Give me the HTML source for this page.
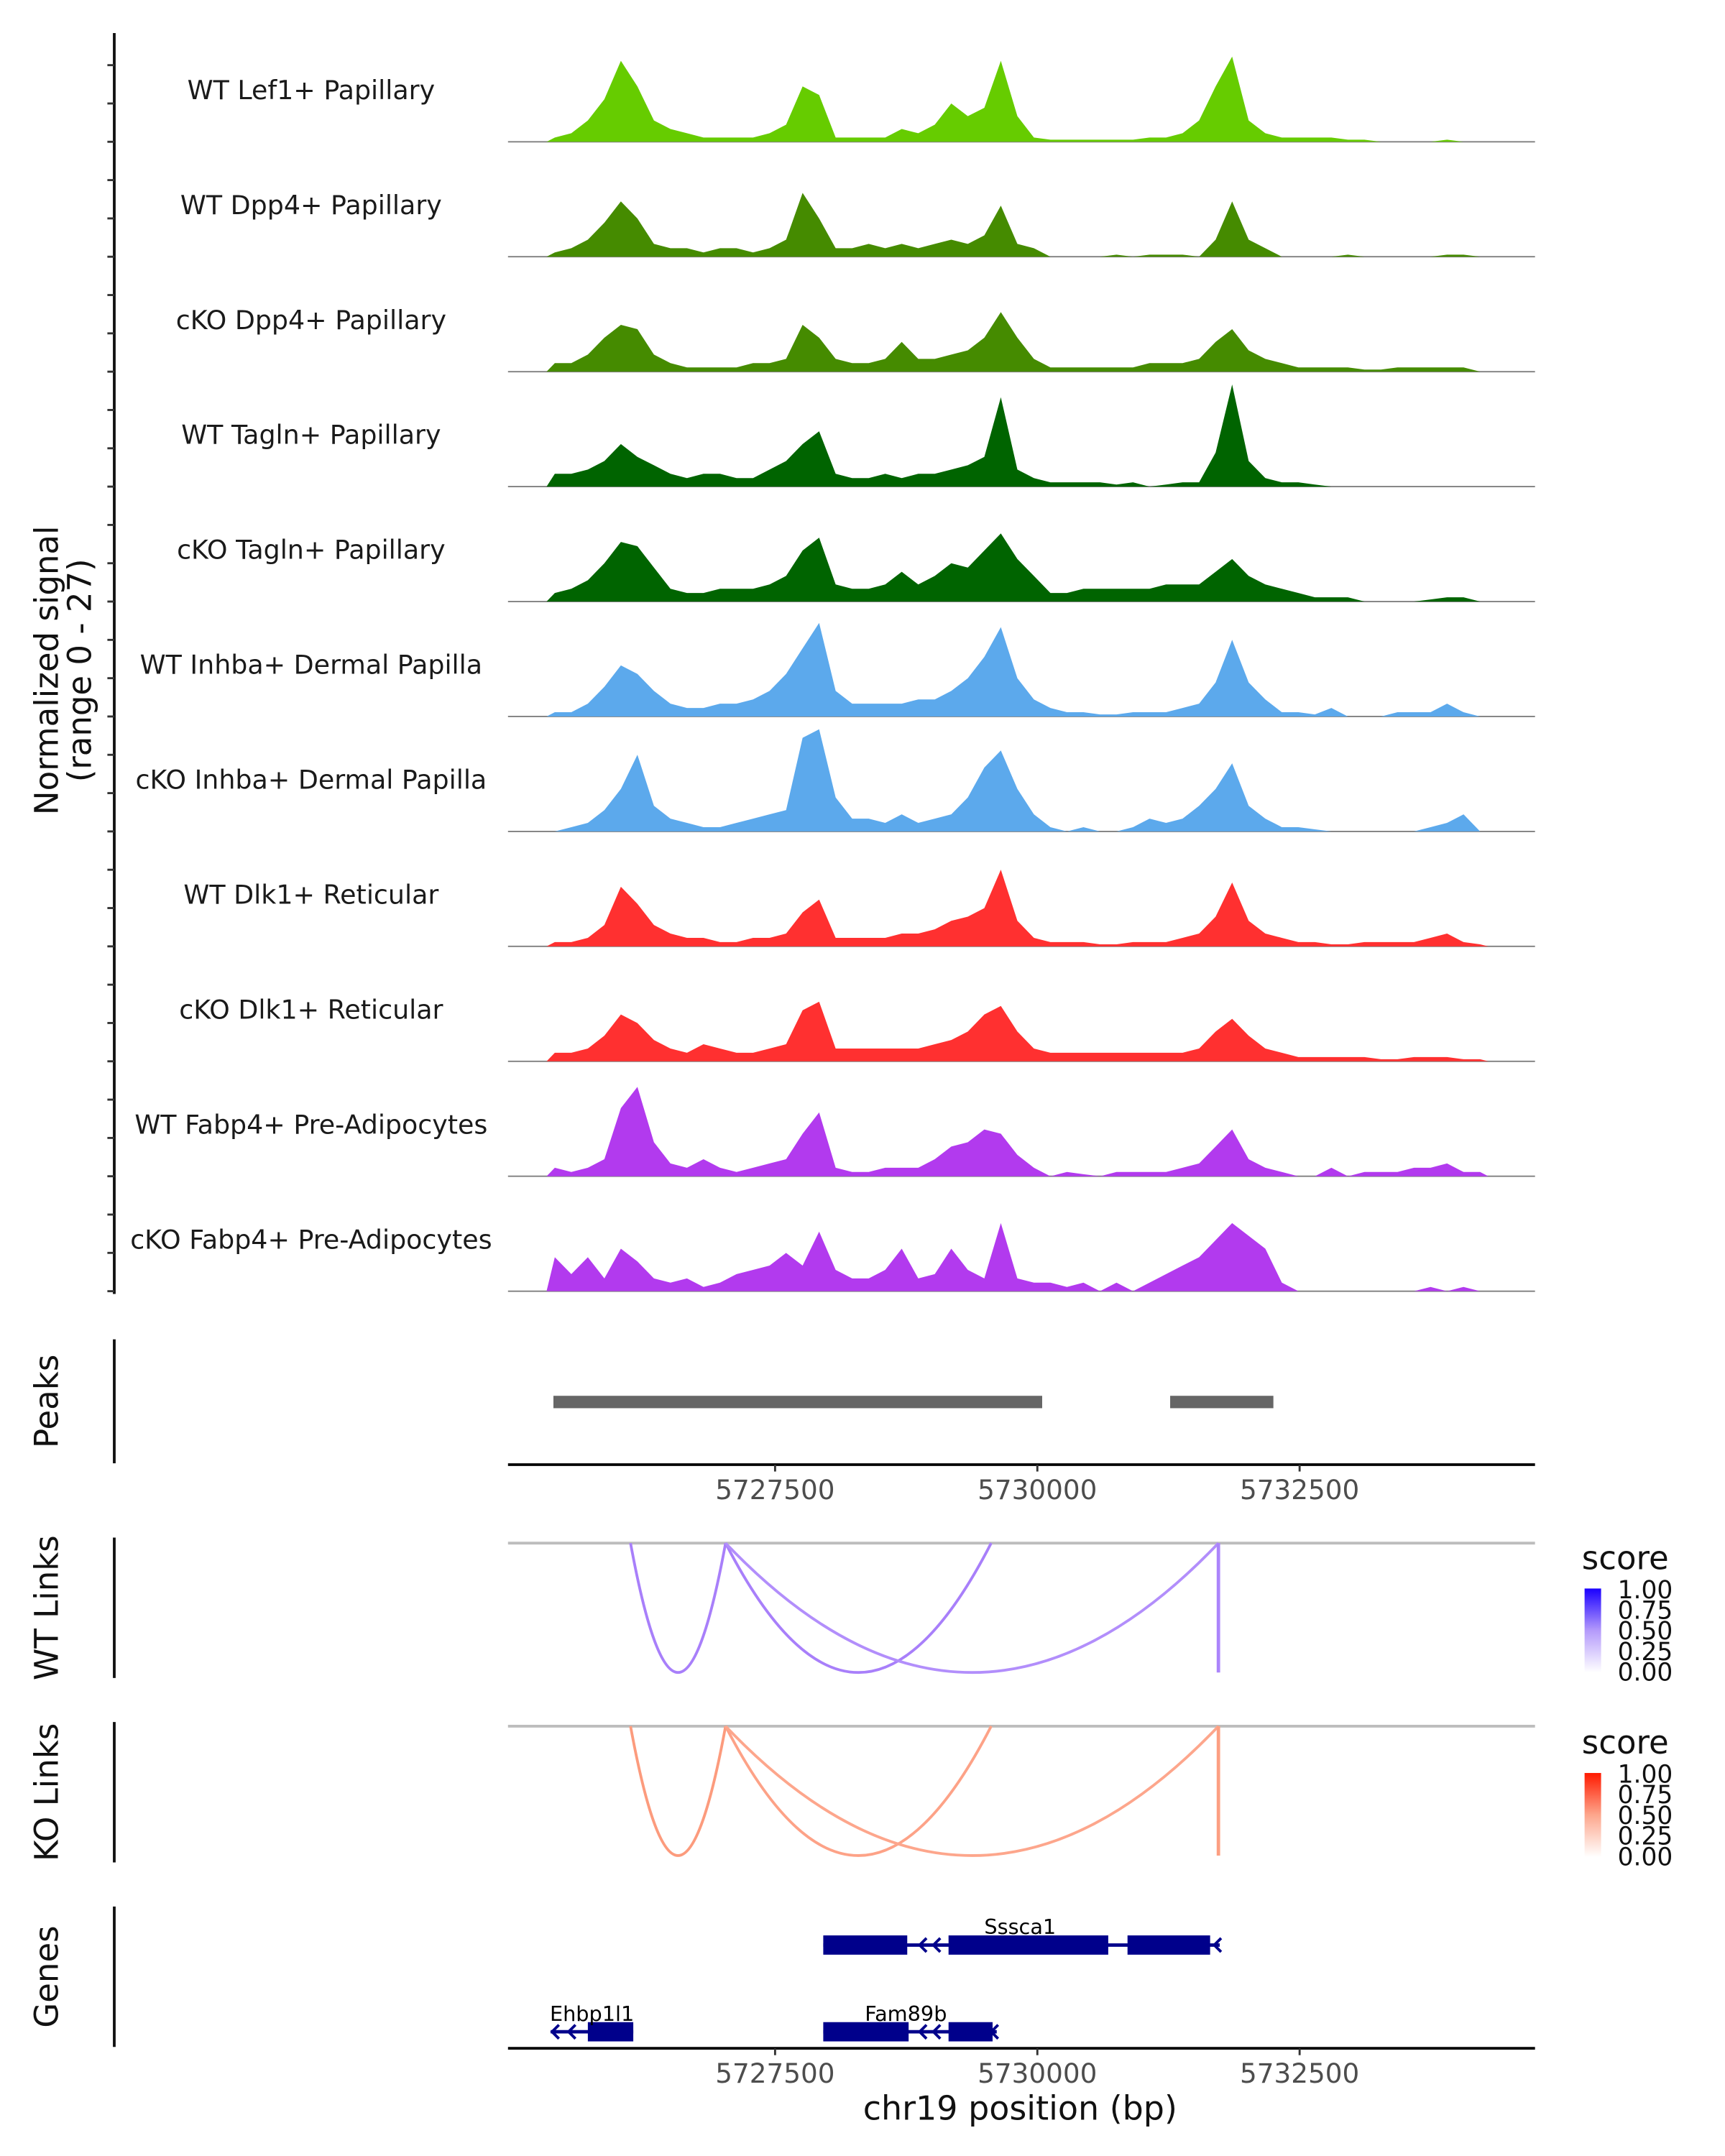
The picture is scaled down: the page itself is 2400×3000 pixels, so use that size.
<!DOCTYPE html>
<html><head><meta charset="utf-8">
<style>
html,body{margin:0;padding:0;background:#fff;}
svg{display:block;font-family:"DejaVu Sans","Liberation Sans",sans-serif;}
</style></head>
<body>
<svg id="chart" width="2400" height="3000" viewBox="0 0 1253 1566.25" xmlns="http://www.w3.org/2000/svg">
<rect width="1253" height="1566.25" fill="#fff"/>
<g id="cov"></g>
<g id="yaxis"></g>
<text transform="translate(42,487) rotate(-90)" text-anchor="middle" font-size="23.5" fill="#111">Normalized signal</text>
<text transform="translate(66,487) rotate(-90)" text-anchor="middle" font-size="23.5" fill="#111">(range 0 - 27)</text>

<line x1="83" y1="973" x2="83" y2="1063" stroke="#111" stroke-width="2"/>
<text transform="translate(42,1018) rotate(-90)" text-anchor="middle" font-size="23.5" fill="#111">Peaks</text>
<g id="peaks"></g>
<line x1="369" y1="1064" x2="1115" y2="1064" stroke="#000" stroke-width="2"/>
<g id="xaxis1"></g>

<line x1="83" y1="1117" x2="83" y2="1219" stroke="#111" stroke-width="2"/>
<text transform="translate(42,1168) rotate(-90)" text-anchor="middle" font-size="23.5" fill="#111">WT Links</text>
<line x1="369" y1="1121" x2="1115" y2="1121" stroke="#bdbdbd" stroke-width="2"/>
<g id="wtlinks"></g>

<line x1="83" y1="1251" x2="83" y2="1353" stroke="#111" stroke-width="2"/>
<text transform="translate(42,1302) rotate(-90)" text-anchor="middle" font-size="23.5" fill="#111">KO Links</text>
<line x1="369" y1="1254" x2="1115" y2="1254" stroke="#bdbdbd" stroke-width="2"/>
<g id="kolinks"></g>

<defs>
<linearGradient id="gb" x1="0" y1="1" x2="0" y2="0"><stop offset="0" stop-color="#fff"/><stop offset="0.5" stop-color="#b49afb"/><stop offset="1" stop-color="#1a00ff"/></linearGradient>
<linearGradient id="gr" x1="0" y1="1" x2="0" y2="0"><stop offset="0" stop-color="#fff"/><stop offset="0.5" stop-color="#fda68c"/><stop offset="1" stop-color="#ff1a00"/></linearGradient>
</defs>
<g>
<text x="1149" y="1140" font-size="23.5" fill="#111">score</text>
<rect x="1151" y="1154" width="12" height="61" fill="url(#gb)"/>
<g font-size="18" fill="#111"><text x="1175" y="1161">1.00</text><text x="1175" y="1176">0.75</text><text x="1175" y="1191">0.50</text><text x="1175" y="1206">0.25</text><text x="1175" y="1221">0.00</text></g>
</g>
<g>
<text x="1149" y="1274" font-size="23.5" fill="#111">score</text>
<rect x="1151" y="1288" width="12" height="61" fill="url(#gr)"/>
<g font-size="18" fill="#111"><text x="1175" y="1295">1.00</text><text x="1175" y="1310">0.75</text><text x="1175" y="1325">0.50</text><text x="1175" y="1340">0.25</text><text x="1175" y="1355">0.00</text></g>
</g>

<line x1="83" y1="1385" x2="83" y2="1487" stroke="#111" stroke-width="2"/>
<text transform="translate(42,1436) rotate(-90)" text-anchor="middle" font-size="23.5" fill="#111">Genes</text>
<g id="genes"></g>
<line x1="369" y1="1488" x2="1115" y2="1488" stroke="#000" stroke-width="2"/>
<g id="xaxis2"></g>
<text x="741" y="1540" text-anchor="middle" font-size="24" fill="#111">chr19 position (bp)</text>
</svg>
<script>
const NS="http://www.w3.org/2000/svg";
const domainStart=5724954, domainEnd=5734744;
const binStart=5725400, binWidth=157.5;
const xTicks=[5727500,5730000,5732500];
const tickLabels=["5727500","5730000","5732500"];
const trackNames=["WT Lef1+ Papillary","WT Dpp4+ Papillary","cKO Dpp4+ Papillary","WT Tagln+ Papillary","cKO Tagln+ Papillary","WT Inhba+ Dermal Papilla","cKO Inhba+ Dermal Papilla","WT Dlk1+ Reticular","cKO Dlk1+ Reticular","WT Fabp4+ Pre-Adipocytes","cKO Fabp4+ Pre-Adipocytes"];
const trackColors=["#66cc00","#458b00","#458b00","#006400","#006400","#5ca9ec","#5ca9ec","#ff3030","#ff3030","#b23aee","#b23aee"];
const cov0=[1,2,5,10,19,13,5,3,2,1,1,1,1,2,4,13,11,1,1,1,1,3,2,4,9,6,8,19,6,1,0.5,0.5,0.5,0.5,0.5,0.5,1,1,2,5,13,20,5,2,1,1,1,1,0.5,0.5,0,0,0,0,0.5,0,0];
const cov1=[1,2,4,8,13,9,3,2,2,1,2,2,1,2,4,15,9,2,2,3,2,3,2,3,4,3,5,12,3,2,0,0,0,0,0.5,0,0.5,0.5,0.5,0,4,13,4,2,0,0,0,0,0.5,0,0,0,0,0,0.5,0.5,0];
const cov2=[2,2,4,8,11,10,4,2,1,1,1,1,2,2,3,11,8,3,2,2,3,7,3,3,4,5,8,14,8,3,1,1,1,1,1,1,2,2,2,3,7,10,5,3,2,1,1,1,1,0.5,0.5,1,1,1,1,1,0];
const cov3=[3,3,4,6,10,7,5,3,2,3,3,2,2,4,6,10,13,3,2,2,3,2,3,3,4,5,7,21,4,2,1,1,1,1,0.5,1,0,0.5,1,1,8,24,6,2,1,1,0.5,0,0,0,0,0,0,0,0,0,0];
const cov4=[2,3,5,9,14,13,8,3,2,2,3,3,3,4,6,12,15,4,3,3,4,7,4,6,9,8,12,16,10,6,2,2,3,3,3,3,3,4,4,4,7,10,6,4,3,2,1,1,1,0,0,0,0,0.5,1,1,0];
const cov5=[1,1,3,7,12,10,6,3,2,2,3,3,4,6,10,16,22,6,3,3,3,3,4,4,6,9,14,21,9,4,2,1,1,0.5,0.5,1,1,1,2,3,8,18,8,4,1,1,0.5,2,0,0,0,1,1,1,3,1,0];
const cov6=[0,1,2,5,10,18,6,3,2,1,1,2,3,4,5,22,24,8,3,3,2,4,2,3,4,8,15,19,10,4,1,0,1,0,0,1,3,2,3,6,10,16,6,3,1,1,0.5,0,0,0,0,0,0,1,2,4,0];
const cov7=[1,1,2,5,14,10,5,3,2,2,1,1,2,2,3,8,11,2,2,2,2,3,3,4,6,7,9,18,6,2,1,1,1,0.5,0.5,1,1,1,2,3,7,15,6,3,2,1,1,0.5,0.5,1,1,1,1,2,3,1,0.5];
const cov8=[2,2,3,6,11,9,5,3,2,4,3,2,2,3,4,12,14,3,3,3,3,3,3,4,5,7,11,13,7,3,2,2,2,2,2,2,2,2,2,3,7,10,6,3,2,1,1,1,1,1,0.5,0.5,1,1,1,0.5,0.5];
const cov9=[2,1,2,4,16,21,8,3,2,4,2,1,2,3,4,10,15,2,1,1,2,2,2,4,7,8,11,10,5,2,0,1,0.5,0,1,1,1,1,2,3,7,11,4,2,1,0,0,2,0,1,1,1,2,2,3,1,1];
const cov10=[8,4,8,3,10,7,3,2,3,1,2,4,5,6,9,6,14,5,3,3,5,10,3,4,10,5,3,16,3,2,2,1,2,0,2,0,2,4,6,8,12,16,13,10,2,0,0,0,0,0,0,0,0,1,0,1,0];
const coverage=[cov0,cov1,cov2,cov3,cov4,cov5,cov6,cov7,cov8,cov9,cov10];
const peakStarts=[5725387,5731266];
const peakEnds=[5730046,5732250];
const wtLinkStarts=[5726122,5727028,5727028,5731726];
const wtLinkEnds=[5727028,5729560,5731726,5731726];
const wtLinkScores=[0.5,0.5,0.35,0.45];
const koLinkStarts=[5726122,5727028,5727028,5731726];
const koLinkEnds=[5727028,5729560,5731726,5731726];
const koLinkScores=[0.5,0.4,0.35,0.45];
const yMax=27;

const X0=369,X1=1115,trackH=83.5,base0=103;
const xs=bp=>X0+(bp-domainStart)/(domainEnd-domainStart)*(X1-X0);
const ys=(v,b)=>b-v/yMax*trackH;
function el(tag,attrs,parent){const e=document.createElementNS(NS,tag);for(const k in attrs)e.setAttribute(k,attrs[k]);parent.appendChild(e);return e;}

const cov=document.getElementById('cov');
const yaxis=document.getElementById('yaxis');
const ya=el('line',{x1:83,y1:24,x2:83,y2:940,stroke:'#111','stroke-width':2},yaxis);


coverage.forEach((vals,t)=>{
  const b=base0+t*trackH;
  const g=el('g',{},cov);
  
  
  const lbl=el('text',{x:226,y:b-31,'text-anchor':'middle','font-size':19,fill:'#1a1a1a'},g);
  lbl.textContent=trackNames[t];
  
  
  const bl=el('line',{x1:X0,y1:b,x2:X1,y2:b,stroke:'#7f7f7f','stroke-width':1},g);
  
  
  let d='M'+xs(binStart-binWidth/2).toFixed(1)+','+b;
  vals.forEach((v,i)=>{d+=' L'+xs(binStart+i*binWidth).toFixed(1)+','+ys(v,b).toFixed(1);});
  d+=' L'+xs(binStart+(vals.length-0.5)*binWidth).toFixed(1)+','+b+' Z';
  const a=el('path',{d:d,fill:trackColors[t]},g);
  
  
  [0,9,18].forEach(v=>{
    const tk=el('line',{x1:78,x2:83,y1:ys(v,b),y2:ys(v,b),stroke:'#333','stroke-width':1.5},yaxis);
    
    
  });
});

const pk=document.getElementById('peaks');
peakStarts.forEach((s,i)=>{
  const r=el('rect',{x:xs(s),y:1014,width:xs(peakEnds[i])-xs(s),height:9,fill:'#666'},pk);
  
  
});

function axis(id,y){
  const g=document.getElementById(id);
  xTicks.forEach((v,i)=>{
    const tk=el('line',{x1:xs(v),x2:xs(v),y1:y,y2:y+5,stroke:'#333','stroke-width':1.5},g);
    
    
    const tl=el('text',{x:xs(v),y:y+25,'text-anchor':'middle','font-size':19.5,fill:'#4d4d4d'},g);
    tl.textContent=tickLabels[i];
    
    
  });
}
axis('xaxis1',1064);axis('xaxis2',1488);

function links(id,starts,ends,scores,base,hue){
  const g=document.getElementById(id);
  const depth=94;
  starts.forEach((s,i)=>{
    const a=xs(s),b=xs(ends[i]);
    const light=Math.round(84-scores[i]*20);
    const col=hue==='b'?`hsl(260,93%,${light}%)`:`hsl(14,96%,${light}%)`;
    let p;
    if(Math.abs(b-a)<1){p=el('line',{x1:a,y1:base,x2:a,y2:base+depth,stroke:col,'stroke-width':2.5},g);}
    else{p=el('path',{d:`M${a},${base} Q${(a+b)/2},${base+2*depth} ${b},${base}`,fill:'none',stroke:col,'stroke-width':2},g);}
    
    
  });
}
links('wtlinks',wtLinkStarts,wtLinkEnds,wtLinkScores,1121,'b');
links('kolinks',koLinkStarts,koLinkEnds,koLinkScores,1254,'r');

const genes=document.getElementById('genes');
const navy='#00008b';
function gene(name,y,lineS,lineE,boxes,labelX,arrows){
  const g=el('g',{},genes);
  
  
  el('line',{x1:lineS,x2:lineE,y1:y,y2:y,stroke:navy,'stroke-width':2.5},g);
  boxes.forEach(bx=>el('rect',{x:bx[0],y:y-7,width:bx[1]-bx[0],height:14,fill:navy},g));
  arrows.forEach(ax=>el('polyline',{points:`${ax+5},${y-5} ${ax},${y} ${ax+5},${y+5}`,fill:'none',stroke:navy,'stroke-width':2},g));
  const t=el('text',{x:labelX,y:y-8,'text-anchor':'middle','font-size':15,fill:'#000'},g);
  t.textContent=name;
}
gene('Sssca1',1413,598,886,[[598,659],[689,805],[819,879]],741,[668,678,882]);
gene('Fam89b',1476,598,724,[[598,660],[689,721]],658,[668,678,720]);
gene('Ehbp1l1',1476,400,460,[[427,460]],430,[401,413]);
</script>
</body></html>
